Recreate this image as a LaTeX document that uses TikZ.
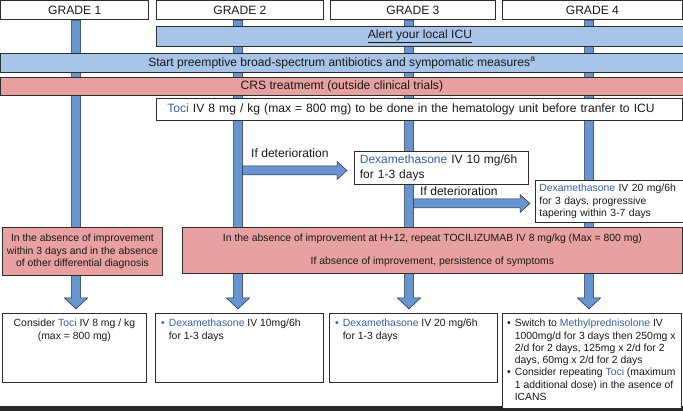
\documentclass[tikz,border=0pt]{standalone}
\usepackage{fontspec}
\setmainfont{Liberation Sans}
\usetikzlibrary{calc,backgrounds}
\definecolor{barblue}{RGB}{104,148,208}
\definecolor{lblue}{RGB}{168,196,232}
\definecolor{pinkfill}{RGB}{232,160,160}
\definecolor{txtblue}{RGB}{58,95,160}
\definecolor{edge}{RGB}{45,45,45}
\definecolor{arrowedge}{RGB}{30,40,60}
\newcommand\mainsz{\fontsize{12.1}{14.5}\selectfont}
\newcommand\smsz{\fontsize{10.4}{12.4}\selectfont}
\newcommand\bsz{\fontsize{10.4}{12.3}\selectfont}
\newcommand\cind{\phantom{\textbullet}\hspace{4pt}}
\newcommand\bul{\textbullet\hspace{4pt}}
% vertical block arrow: #1 x (px), #2 top anchor, #3 target anchor
\newcommand\myvbar[3]{%
  \path[blockarrow] let \p1=(#2), \p2=(#3) in
    ({#1pt-4.5pt},{\y1}) -- ({#1pt-4.5pt},{\y2+15pt}) -- ({#1pt-11.5pt},{\y2+15pt})
    -- ({#1pt},{\y2+4pt}) -- ({#1pt+11.5pt},{\y2+15pt}) -- ({#1pt+4.5pt},{\y2+15pt})
    -- ({#1pt+4.5pt},{\y1}) -- cycle;}
% horizontal block arrow: #1 start x, #2 centre y (px), #3 target anchor, #4 gap
\newcommand\myharrow[4]{%
  \path[blockarrow] let \p2=(#3) in
    ({#1pt},{-#2pt+4.5pt}) -- ({\x2-#4pt-10pt},{-#2pt+4.5pt}) -- ({\x2-#4pt-10pt},{-#2pt+9pt})
    -- ({\x2-#4pt},{-#2pt}) -- ({\x2-#4pt-10pt},{-#2pt-9pt}) -- ({\x2-#4pt-10pt},{-#2pt-4.5pt})
    -- ({#1pt},{-#2pt-4.5pt}) -- cycle;}
\begin{document}
\begin{tikzpicture}[x=1pt,y=-1pt,
  box/.style={draw=edge, line width=0.8pt, inner sep=0pt, anchor=north west, text=black!90},
  hdr/.style={box, fill=white, font=\mainsz},
  bluebar/.style={box, fill=lblue, font=\mainsz},
  pinkbar/.style={box, fill=pinkfill},
  whitebox/.style={box, fill=white},
  txt/.style={inner sep=0pt, anchor=north west, align=left, text=black!90},
  blockarrow/.style={fill=barblue, draw=arrowedge, line width=0.5pt, line join=miter},
]
\useasboundingbox (0,0) rectangle (683,411);

% headers
\node[hdr, minimum width=148, minimum height=19] (h1) at (0.4,0.4) {GRADE 1};
\node[hdr, minimum width=167, minimum height=19] (h2) at (156,0.4) {GRADE 2};
\node[hdr, minimum width=165, minimum height=19] (h3) at (330,0.4) {GRADE 3};
\node[hdr, minimum width=180, minimum height=19] (h4) at (502,0.4) {GRADE 4};

% full-width bands
\node[bluebar, minimum width=527, minimum height=20] (alert) at (156,26) {\underline{Alert your local ICU}};
\node[bluebar, minimum width=683, minimum height=19] (start) at (0,53)
  {Start preemptive broad-spectrum antibiotics and sympomatic measures\textsuperscript{a}};
\node[pinkbar, minimum width=683, minimum height=18, font=\mainsz] (crs) at (0,77)
  {CRS treatmemt (outside clinical trials)};
\node[whitebox, text width=504, inner xsep=11pt, minimum height=22, align=left, font=\mainsz] (toci) at (156,98)
  {\textcolor{txtblue}{Toci} IV 8 mg / kg (max = 800 mg) to be done in the hematology unit before tranfer to ICU};

% deterioration boxes
\node[whitebox, text width=163, inner xsep=5.5pt, minimum height=33, align=left, font=\fontsize{12}{15}\selectfont] (dex10) at (354,151)
  {\textcolor{txtblue}{Dexamethasone} IV 10 mg/6h\\for 1-3 days};
\node[whitebox, text width=141, inner xsep=4pt, minimum height=42, align=left, font=\smsz] (dex20) at (535,180)
  {\textcolor{txtblue}{Dexamethasone} IV 20 mg/6h\\for 3 days, progressive\\tapering within 3-7 days};
\node[txt, font=\mainsz, anchor=base west] (lab1) at (251,158) {If deterioration};
\node[txt, font=\mainsz, anchor=base west] (lab2) at (420,196) {If deterioration};

% pink boxes
\node[pinkbar, minimum width=160, minimum height=48, align=center, font=\smsz] (pk1) at (2,227)
  {In the absence of improvement\\within 3 days and in the absence\\of other differential diagnosis};
\node[pinkbar, minimum width=500, minimum height=46, align=center, font=\smsz] (pk2) at (182,227)
  {In the absence of improvement at H+12, repeat TOCILIZUMAB IV 8 mg/kg (Max = 800 mg)\\[11pt]If absence of improvement, persistence of symptoms};

% bottom band
\fill[black!85] (0,406) rectangle (683,411);

% bottom boxes
\node[whitebox, minimum width=144, minimum height=69] (b1) at (2,313) {};
\node[whitebox, minimum width=168, minimum height=69] (b2) at (155,313) {};
\node[whitebox, minimum width=168, minimum height=69] (b3) at (329,313) {};
\node[whitebox, minimum width=179, minimum height=95] (b4) at (502,313) {};

\node[txt, anchor=north, align=center, font=\bsz] (t1) at ($(b1.north)+(0,6)$)
  {Consider \textcolor{txtblue}{Toci} IV 8 mg / kg\\(max = 800 mg)};
\node[txt, font=\bsz] (t2) at ($(b2.north west)+(6,6)$)
  {\textcolor{txtblue}{\bul Dexamethasone} IV 10mg/6h\\\cind for 1-3 days};
\node[txt, font=\bsz] (t3) at ($(b3.north west)+(6,6)$)
  {\textcolor{txtblue}{\bul Dexamethasone} IV 20 mg/6h\\\cind for 1-3 days};
\node[txt, font=\bsz] (t4) at ($(b4.north west)+(5,6)$)
  {\bul Switch to \textcolor{txtblue}{Methylprednisolone} IV\\
   \cind 1000mg/d for 3 days then 250mg x\\
   \cind 2/d for 2 days, 125mg x 2/d for 2\\
   \cind days, 60mg x 2/d for 2 days\\
   \bul Consider repeating \textcolor{txtblue}{Toci} (maximum\\
   \cind 1 additional dose) in the asence of\\
   \cind ICANS};

% arrows behind everything
\begin{scope}[on background layer]
  \fill[white] (0,0) rectangle (683,406);
  \myharrow{238}{170.5}{dex10.west}{7}
  \myharrow{409}{203.5}{dex20.west}{5}
  \myvbar{76}{h1.south}{b1.north}
  \myvbar{238}{h2.south}{b2.north}
  \myvbar{409}{h3.south}{b3.north}
  \myvbar{589}{h4.south}{b4.north}
\end{scope}
\end{tikzpicture}
\end{document}
